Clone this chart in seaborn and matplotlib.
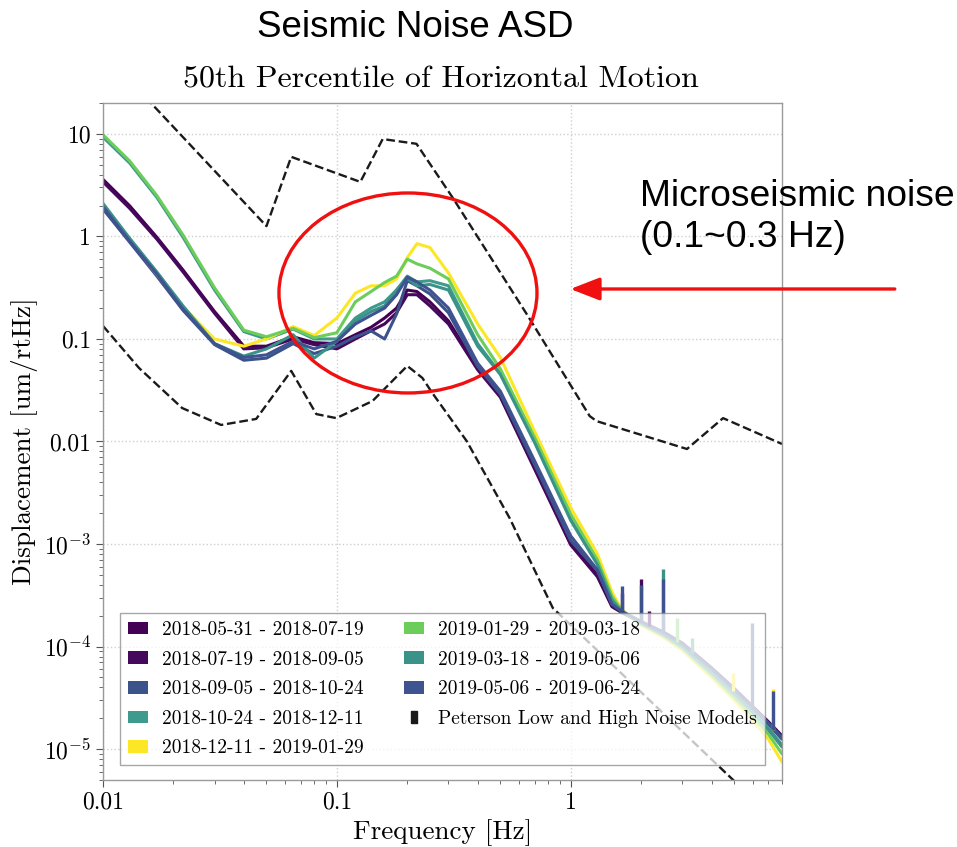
import pandas as pd
import matplotlib
matplotlib.use("Agg")
import matplotlib.pyplot as plt
import seaborn as sns
from matplotlib.patches import Patch, Ellipse, FancyArrowPatch
from matplotlib.lines import Line2D
from matplotlib.ticker import NullFormatter

# Periods (legend order) and their colours
PERIODS = [
    "2018-05-31 - 2018-07-19",
    "2018-07-19 - 2018-09-05",
    "2018-09-05 - 2018-10-24",
    "2018-10-24 - 2018-12-11",
    "2018-12-11 - 2019-01-29",
    "2019-01-29 - 2019-03-18",
    "2019-03-18 - 2019-05-06",
    "2019-05-06 - 2019-06-24",
]
COLORS = ["#440154", "#46085c", "#3b528b", "#3e9a8c",
          "#fde725", "#6ccd5a", "#3a9289", "#3e5390"]

FREQ = [0.01, 0.013, 0.017, 0.022, 0.03, 0.04, 0.05, 0.065, 0.08, 0.1,
        0.12, 0.14, 0.16, 0.18, 0.2, 0.22, 0.25, 0.3, 0.4, 0.5, 0.7, 1.0,
        1.3, 1.5, 1.65, 2.0, 2.5, 3.0, 4.0, 5.0, 6.0, 7.0, 8.0]

# Displacement ASD [um/rtHz], one list per period
ASD_20180531 = [3.6, 1.99, 0.98, 0.47, 0.185, 0.085, 0.085, 0.105, 0.092, 0.09,
                0.11, 0.13, 0.16, 0.2, 0.3, 0.29, 0.23, 0.15, 0.052, 0.028, 0.0056, 0.001,
                5.0e-4, 2.5e-4, 2.2e-4, 1.75e-4, 1.38e-4, 1.08e-4, 6.2e-5, 3.9e-5, 2.6e-5, 1.85e-5, 1.35e-5]
ASD_20180719 = [3.4, 1.88, 0.94, 0.45, 0.178, 0.08, 0.082, 0.1, 0.088, 0.08,
                0.1, 0.12, 0.14, 0.18, 0.27, 0.27, 0.21, 0.14, 0.05, 0.027, 0.0054, 0.00098,
                4.8e-4, 2.45e-4, 2.15e-4, 1.72e-4, 1.35e-4, 1.05e-4, 6.0e-5, 3.8e-5, 2.55e-5, 1.8e-5, 1.3e-5]
ASD_20180905 = [1.85, 0.88, 0.41, 0.19, 0.088, 0.062, 0.065, 0.09, 0.072, 0.085,
                0.105, 0.12, 0.1, 0.175, 0.37, 0.33, 0.275, 0.18, 0.054, 0.029, 0.006, 0.00108,
                5.5e-4, 2.6e-4, 2.2e-4, 1.74e-4, 1.36e-4, 1.05e-4, 6.0e-5, 3.7e-5, 2.5e-5, 1.75e-5, 1.25e-5]
ASD_20181024 = [9.3, 5.2, 2.4, 0.98, 0.3, 0.118, 0.1, 0.125, 0.1, 0.1,
                0.16, 0.2, 0.23, 0.3, 0.41, 0.36, 0.37, 0.33, 0.09, 0.046, 0.0101, 0.00176,
                6.5e-4, 2.9e-4, 2.2e-4, 1.7e-4, 1.32e-4, 1.0e-4, 5.7e-5, 3.5e-5, 2.3e-5, 1.6e-5, 1.1e-5]
ASD_20181211 = [2.0, 0.93, 0.43, 0.205, 0.1, 0.085, 0.1, 0.132, 0.108, 0.16,
                0.28, 0.33, 0.33, 0.385, 0.62, 0.85, 0.78, 0.44, 0.14, 0.066, 0.0126, 0.00226,
                8.0e-4, 3.4e-4, 2.3e-4, 1.62e-4, 1.22e-4, 9.2e-5, 5.0e-5, 3.0e-5, 1.9e-5, 1.25e-5, 7.5e-6]
ASD_20190129 = [9.8, 5.45, 2.5, 1.03, 0.315, 0.122, 0.105, 0.127, 0.103, 0.115,
                0.23, 0.29, 0.355, 0.41, 0.6, 0.54, 0.49, 0.385, 0.11, 0.051, 0.011, 0.00195,
                7.0e-4, 3.1e-4, 2.25e-4, 1.66e-4, 1.27e-4, 9.6e-5, 5.3e-5, 3.2e-5, 2.1e-5, 1.4e-5, 9.0e-6]
ASD_20190318 = [2.1, 0.96, 0.45, 0.21, 0.09, 0.068, 0.08, 0.11, 0.065, 0.095,
                0.15, 0.185, 0.21, 0.3, 0.39, 0.33, 0.34, 0.3, 0.085, 0.045, 0.0098, 0.0017,
                6.3e-4, 2.85e-4, 2.2e-4, 1.7e-4, 1.3e-4, 1.0e-4, 5.6e-5, 3.45e-5, 2.3e-5, 1.55e-5, 1.05e-5]
ASD_20190506 = [1.95, 0.9, 0.43, 0.195, 0.09, 0.066, 0.07, 0.095, 0.08, 0.095,
                0.14, 0.17, 0.2, 0.27, 0.4, 0.36, 0.3, 0.2, 0.058, 0.031, 0.0065, 0.0012,
                5.6e-4, 2.6e-4, 2.2e-4, 1.75e-4, 1.37e-4, 1.06e-4, 6.1e-5, 3.8e-5, 2.55e-5, 1.8e-5, 1.3e-5]
ASD = [ASD_20180531, ASD_20180719, ASD_20180905, ASD_20181024,
       ASD_20181211, ASD_20190129, ASD_20190318, ASD_20190506]

# Narrow spectral lines above 1 Hz: frequency, foot, top, period index
SPIKE_FREQ = [1.65, 1.65, 2.0, 2.0, 2.16, 2.48, 2.48, 2.85, 3.3, 4.95, 5.97, 7.3, 7.3]
SPIKE_FOOT = [2.2e-4, 2.2e-4, 1.72e-4, 1.72e-4, 1.6e-4, 1.35e-4, 1.35e-4,
              1.1e-4, 8.6e-5, 3.7e-5, 2.45e-5, 1.55e-5, 1.55e-5]
SPIKE_TOP = [3.3e-4, 3.9e-4, 4.6e-4, 4.0e-4, 2.2e-4, 5.7e-4, 4.6e-4,
             1.9e-4, 1.2e-4, 5.5e-5, 1.7e-4, 3.9e-5, 3.7e-5]
SPIKE_PERIOD = [0, 7, 1, 2, 0, 6, 7, 5, 3, 4, 2, 4, 7]

# Peterson high / low noise models (displacement)
NHNM_F = [0.01, 0.05, 0.0638, 0.126, 0.157, 0.219, 0.313, 0.648, 1.205, 1.29, 3.14, 4.48, 8.0]
NHNM_V = [63, 1.26, 5.97, 3.4, 8.9, 8.0, 2.38, 0.175, 0.0177, 0.0158, 0.00845, 0.0169, 0.00946]
NLNM_F = [0.01, 0.01426, 0.0218, 0.032, 0.0452, 0.0638, 0.0817, 0.0995, 0.142, 0.2,
          0.232, 0.256, 0.359, 0.548, 0.838, 4.66, 8.0]
NLNM_V = [0.134, 0.0521, 0.0212, 0.0145, 0.0166, 0.0488, 0.0185, 0.0169, 0.0248, 0.0546,
          0.0417, 0.0297, 0.0101, 0.00179, 2.38e-4, 5.7e-6, 1.76e-6]

XTICKS = [0.01, 0.1, 1]
XTICK_LABELS = ["0.01", "0.1", "1"]
YTICKS = [1e-5, 1e-4, 1e-3, 0.01, 0.1, 1, 10]
YTICK_LABELS = ["$10^{-5}$", "$10^{-4}$", "$10^{-3}$", "0.01", "0.1", "1", "10"]

sns.set_theme(style="white")
plt.rcParams["font.family"] = ["cmr10", "DejaVu Serif"]
plt.rcParams["mathtext.fontset"] = "cm"
plt.rcParams["axes.unicode_minus"] = False
plt.rcParams["axes.formatter.use_mathtext"] = True
for key in ["text.color", "axes.labelcolor", "xtick.labelcolor", "ytick.labelcolor"]:
    plt.rcParams[key] = "black"
SANS = ["Liberation Sans", "DejaVu Sans"]
RED = "#f01010"

rows = []
for label, vals in zip(PERIODS, ASD):
    for f, v in zip(FREQ, vals):
        rows.append((label, f, v))
df = pd.DataFrame(rows, columns=["period", "freq", "asd"])

fig = plt.figure(figsize=(9.57, 8.47), dpi=100)
ax = fig.add_axes([0.1076, 0.0791, 0.7095, 0.7993])
ax.set_xscale("log")
ax.set_yscale("log")

ax.grid(True, which="major", color="#cfcfcf", linestyle=":", linewidth=1.0)

# Peterson models
ax.plot(NHNM_F, NHNM_V, color="k", linestyle="--", linewidth=1.7)
ax.plot(NLNM_F, NLNM_V, color="k", linestyle="--", linewidth=1.7)

# ASD curves
sns.lineplot(data=df, x="freq", y="asd", hue="period", hue_order=PERIODS,
             palette=dict(zip(PERIODS, COLORS)), estimator=None, sort=False,
             linewidth=2.2, legend=False, ax=ax)
ax.vlines(SPIKE_FREQ, SPIKE_FOOT, SPIKE_TOP,
          colors=[COLORS[i] for i in SPIKE_PERIOD], linewidth=2.4)

ax.set_xlim(0.01, 8)
ax.set_ylim(5e-6, 20)
ax.set_xticks(XTICKS, labels=XTICK_LABELS)
ax.set_yticks(YTICKS, labels=YTICK_LABELS)
ax.xaxis.set_minor_formatter(NullFormatter())
ax.yaxis.set_minor_formatter(NullFormatter())
ax.tick_params(axis="both", which="major", labelsize=17, direction="out",
               length=5, width=0.8, color="#555555", left=True, bottom=True)
ax.tick_params(axis="both", which="minor", direction="out", length=3,
               width=0.6, color="#555555", left=True, bottom=True)
for s in ax.spines.values():
    s.set_color("#9a9a9a")
    s.set_linewidth(1.0)

ax.set_xlabel("Frequency [Hz]", fontsize=19.5)
ax.set_ylabel("Displacement [um/rtHz]", fontsize=19.5)

# legend
rect = [(-0.25, -0.5), (0.25, -0.5), (0.25, 0.5), (-0.25, 0.5), (-0.25, -0.5)]
handles = [Patch(facecolor=c, edgecolor="none", label=l) for l, c in zip(PERIODS, COLORS)]
handles.append(Line2D([], [], color="k", marker=rect, linestyle="none",
                      markersize=8, label="Peterson Low and High Noise Models"))
ax.legend(handles=handles, ncol=2, loc="lower left", bbox_to_anchor=(0.025, 0.022),
          fontsize=14, frameon=True, fancybox=False, edgecolor="#8a8a8a",
          framealpha=0.75, handlelength=1.03, handleheight=0.62,
          handletextpad=0.72, labelspacing=0.6, columnspacing=2.1,
          borderpad=0.4, borderaxespad=0)

# titles and annotation
fig.text(0.4337, 0.968, "Seismic Noise ASD", ha="center", va="center",
         fontsize=26.5, family=SANS)
fig.text(0.4608, 0.9055, "50th Percentile of Horizontal Motion",
         ha="center", va="center", fontsize=23)
fig.text(0.6688, 0.744, "Microseismic noise\n(0.1~0.3 Hz)", ha="left",
         va="center", fontsize=26.8, family=SANS)

fig.add_artist(Ellipse((0.4263, 0.6541), 0.2696, 0.2361, transform=fig.transFigure,
                       fill=False, edgecolor=RED, linewidth=2.4))
fig.add_artist(FancyArrowPatch((0.935, 0.6588), (0.596, 0.6588), transform=fig.transFigure,
                               arrowstyle="-|>,head_length=0.9,head_width=0.35",
                               mutation_scale=20, color=RED, linewidth=2.4,
                               shrinkA=0, shrinkB=0))

fig.savefig("out.png", dpi=100)
